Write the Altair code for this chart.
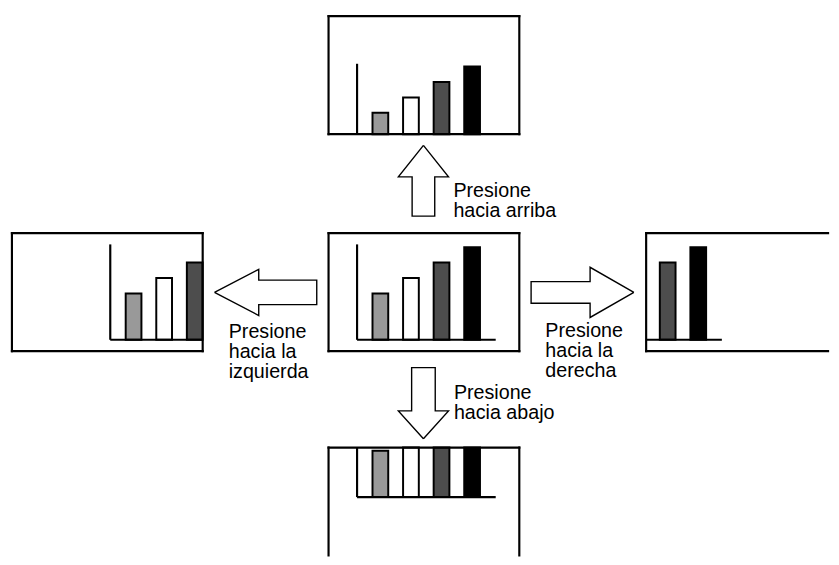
import altair as alt
import pandas as pd

# ---------------- data ----------------
bar_values = [3, 4, 5, 6]
bar_fills = ["#999999", "#ffffff", "#4d4d4d", "#000000"]
panel_names = ["center", "up", "left", "right", "down"]
arrow_names = ["up", "left", "right", "down"]
label_texts = ["Presione\nhacia arriba", "Presione\nhacia la\nizquierda",
               "Presione\nhacia la\nderecha", "Presione\nhacia abajo"]

# ---------------- layout (page pixels) ----------------
X0, X1 = 8, 839
Y0, Y1 = 8, 557
FW, FH = 194, 120
frame_pos = {"center": (331, 229.3), "up": (331, 8.6), "left": (9, 229.3),
             "right": (654, 229.3), "down": (331, 447.3)}
view_shift = {"center": (0, 0), "up": (0, 37), "left": (71, 0),
              "right": (-93, 0), "down": (0, -58)}
AXIS_X, AXIS_TOP, BASE_Y, BASE_END = 29, 11.4, 108.4, 170
BAR_X0, BAR_STEP, BAR_W, PX_UNIT = 44.7, 31.1, 16, 15.7

arrow_geo = {"up": ((427.5, 140), (0, -1), 32, 25.5, 11.5, 72),
             "down": ((427.5, 438.3), (0, 1), 28.3, 25.5, 12, 72.3),
             "left": ((215, 289.5), (-1, 0), 45, 23.5, 12.5, 104),
             "right": ((641.5, 289.5), (1, 0), 44.5, 25.5, 11, 104.5)}
label_pos = {"up": (458, 192), "left": (229.5, 335.5),
             "right": (551.5, 335), "down": (458.5, 397.5)}


def clip_x(v):
    return min(max(v, X0), X1)


def clip_y(v):
    return min(max(v, Y0), Y1)


# ---------------- build tables ----------------
bars, rules, edges = [], [], []
for p in panel_names:
    fx, fy = frame_pos[p]
    dx, dy = view_shift[p]
    fx2, fy2 = fx + FW, fy + FH
    # frame edges, only those inside the page
    for ey in (fy, fy2):
        if Y0 <= ey <= Y1:
            edges.append(dict(x=clip_x(fx), x2=clip_x(fx2), y=ey, y2=ey))
    for ex in (fx, fx2):
        if X0 <= ex <= X1:
            edges.append(dict(x=ex, x2=ex, y=clip_y(fy), y2=clip_y(fy2)))
    base = fy + BASE_Y + dy
    for i, (v, c) in enumerate(zip(bar_values, bar_fills)):
        bx0 = fx + BAR_X0 + BAR_STEP * i + dx
        bx1 = bx0 + BAR_W
        by0, by1 = base - v * PX_UNIT, base
        cx0, cx1 = max(bx0, fx), min(bx1, fx2)
        cy0, cy1 = max(by0, fy), min(by1, fy2)
        if cx1 > cx0 and cy1 > cy0:
            bars.append(dict(x=cx0, x2=cx1, y=cy0, y2=cy1, fill=c))
    ax = fx + AXIS_X + dx
    if fx < ax < fx2:
        ay0, ay1 = max(fy + AXIS_TOP + dy, fy), min(base, fy2)
        if ay1 > ay0:
            rules.append(dict(x=ax, x2=ax, y=ay0, y2=ay1))
    if fy < base < fy2:
        lx0, lx1 = max(ax, fx), min(fx + BASE_END + dx, fx2)
        if lx1 > lx0:
            rules.append(dict(x=lx0, x2=lx1, y=base, y2=base))

arrow_rows = []
for a in arrow_names:
    (tx, ty), (ux, uy), hl, hh, sh, L = arrow_geo[a]
    px, py = -uy, ux
    pts = [(0, 0), (-hl, hh), (-hl, sh), (-L, sh), (-L, -sh), (-hl, -sh), (-hl, -hh), (0, 0)]
    for k, (along, across) in enumerate(pts):
        arrow_rows.append(dict(arrow=a, k=k,
                               x=tx + along * ux + across * px,
                               y=ty + along * uy + across * py))

labels = [dict(arrow=a, text=t, x=label_pos[a][0], y=label_pos[a][1])
          for a, t in zip(arrow_names, label_texts)]
anchors = pd.DataFrame({"x": [X0, X1], "y": [Y0, Y1]})

xs = alt.Scale(domain=[X0, X1], zero=False, nice=False)
ys = alt.Scale(domain=[Y0, Y1], reverse=True, zero=False, nice=False)


def X(f="x"):
    return alt.X(f"{f}:Q", scale=xs, axis=None)


def Y(f="y"):
    return alt.Y(f"{f}:Q", scale=ys, axis=None)


anchor_layer = alt.Chart(anchors).mark_point(opacity=0).encode(x=X(), y=Y())
bar_layer = alt.Chart(pd.DataFrame(bars)).mark_rect(stroke="black", strokeWidth=2).encode(
    x=X(), x2="x2", y=Y(), y2="y2", fill=alt.Fill("fill:N", scale=None))
rule_layer = alt.Chart(pd.DataFrame(rules)).mark_rule(color="black", strokeWidth=2.2).encode(
    x=X(), x2="x2", y=Y(), y2="y2")
edge_layer = alt.Chart(pd.DataFrame(edges)).mark_rule(
    color="black", strokeWidth=2.2, strokeCap="square").encode(
    x=X(), x2="x2", y=Y(), y2="y2")
arrow_layer = alt.Chart(pd.DataFrame(arrow_rows)).mark_line(
    color="black", strokeWidth=1.4, strokeJoin="miter").encode(
    x=X(), y=Y(), detail="arrow:N", order="k:Q")
text_layer = alt.Chart(pd.DataFrame(labels)).mark_text(
    align="left", baseline="alphabetic", font="Liberation Sans", fontSize=20,
    lineHeight=20.5, lineBreak="\n", color="black").encode(
    x=X(), y=Y(), text="text:N")

chart = alt.layer(anchor_layer, bar_layer, rule_layer, edge_layer, arrow_layer, text_layer).properties(
    width=X1 - X0, height=Y1 - Y0, padding=0, background="white"
).configure_view(stroke=None)

chart.save("out.html", embed_options={"renderer": "svg", "actions": False})
